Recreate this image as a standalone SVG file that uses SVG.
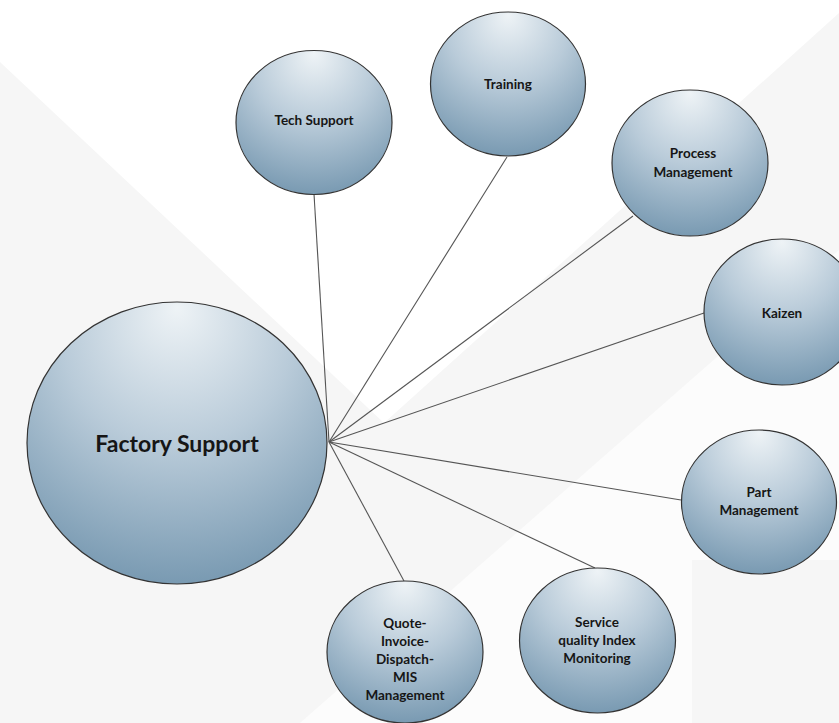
<svg xmlns="http://www.w3.org/2000/svg" width="839" height="723" viewBox="0 0 839 723">
  <defs>
    <radialGradient id="bubble" cx="0.5" cy="0.25" r="0.85" fx="0.5" fy="0.02">
      <stop offset="0" stop-color="#eef3f6"/>
      <stop offset="0.45" stop-color="#b9cbd9"/>
      <stop offset="1" stop-color="#6c90aa"/>
    </radialGradient>
    <style>
      .node { fill: url(#bubble); stroke: #333; stroke-width: 1.2; }
      .link { stroke: #555; stroke-width: 1.1; fill: none; }
      .lbl { font-family: Lato, "Open Sans", "Liberation Sans", sans-serif; font-weight: bold; fill: #161616; text-anchor: middle; font-size: 13.5px; }
      .big { font-size: 23px; }
    </style>
  </defs>

  <!-- soft faceted backdrop -->
  <rect width="839" height="723" fill="#f6f6f6"/>
  <polygon points="0,0 0,62 384,423 839,13 839,0" fill="#ffffff"/>
  <polygon points="300,723 839,250 839,560 692,560 692,723" fill="#fcfcfc"/>

  <!-- spokes from the hub -->
  <g id="connectors">
    <line class="link" x1="329" y1="442" x2="314" y2="194"/>
    <line class="link" x1="329" y1="442" x2="507" y2="157"/>
    <line class="link" x1="329" y1="442" x2="633" y2="216"/>
    <line class="link" x1="329" y1="442" x2="704" y2="313"/>
    <line class="link" x1="329" y1="442" x2="681" y2="500"/>
    <line class="link" x1="329" y1="442" x2="595" y2="568"/>
    <line class="link" x1="329" y1="442" x2="404" y2="581"/>
  </g>

  <g id="factory-support">
    <ellipse class="node" cx="177" cy="443" rx="150" ry="141"/>
    <text class="lbl big" x="177" y="452">Factory Support</text>
  </g>

  <g id="tech-support">
    <ellipse class="node" cx="314" cy="122.5" rx="78" ry="72"/>
    <text class="lbl" x="314" y="125">Tech Support</text>
  </g>

  <g id="training">
    <ellipse class="node" cx="508" cy="84" rx="77.5" ry="72"/>
    <text class="lbl" x="508" y="89">Training</text>
  </g>

  <g id="process-management">
    <ellipse class="node" cx="690" cy="163" rx="78" ry="73"/>
    <text class="lbl" x="693" y="158">Process</text>
    <text class="lbl" x="693" y="177">Management</text>
  </g>

  <g id="kaizen">
    <ellipse class="node" cx="782" cy="312" rx="78" ry="73"/>
    <text class="lbl" x="782" y="318">Kaizen</text>
  </g>

  <g id="part-management">
    <ellipse class="node" cx="759" cy="502" rx="77.5" ry="72"/>
    <text class="lbl" x="759" y="497">Part</text>
    <text class="lbl" x="759" y="515">Management</text>
  </g>

  <g id="service-quality">
    <ellipse class="node" cx="597.5" cy="640.5" rx="78" ry="72.5"/>
    <text class="lbl" x="597" y="627">Service</text>
    <text class="lbl" x="597" y="645">quality Index</text>
    <text class="lbl" x="597" y="663">Monitoring</text>
  </g>

  <g id="quote-management">
    <ellipse class="node" cx="405" cy="652" rx="78" ry="71"/>
    <text class="lbl" x="405" y="628">Quote-</text>
    <text class="lbl" x="405" y="646">Invoice-</text>
    <text class="lbl" x="405" y="664">Dispatch-</text>
    <text class="lbl" x="405" y="682">MIS</text>
    <text class="lbl" x="405" y="700">Management</text>
  </g>
</svg>
